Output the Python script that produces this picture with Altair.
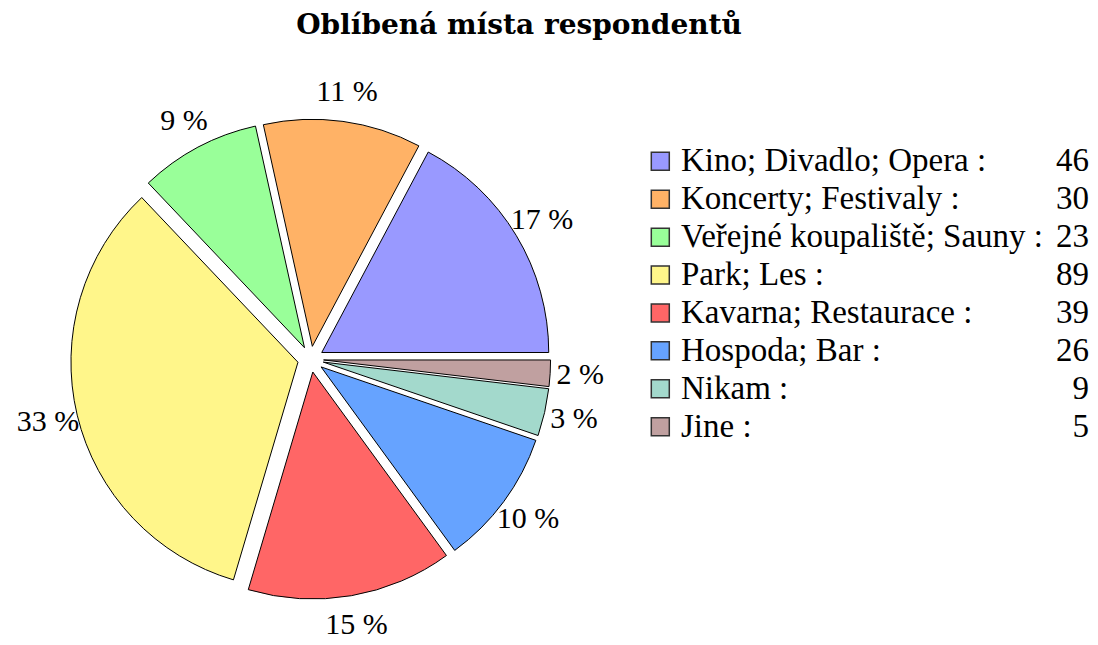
import math
import altair as alt
import pandas as pd

TITLE = "Oblíbená místa respondentů"
NAMES = ["Kino; Divadlo; Opera", "Koncerty; Festivaly", "Veřejné koupaliště; Sauny",
         "Park; Les", "Kavarna; Restaurace", "Hospoda; Bar", "Nikam", "Jine"]
VALUES = [46, 30, 23, 89, 39, 26, 9, 5]
COLORS = ["#9999FF", "#FFB266", "#99FF99", "#FFF68A", "#FF6666", "#66A3FF", "#A3D9CC", "#C0A0A0"]

TOTAL = sum(VALUES)
df = pd.DataFrame({"name": NAMES, "value": VALUES, "idx": list(range(len(NAMES)))})

# layout (pixels)
W, PAD_TOP = 1082, 52
H = 629 - PAD_TOP
CX, CY = 302.6, 299.2
R = 227
EXPLODE = 13 / R
LABEL_R = 270 / R
LEG_Y1, LEG_Y8 = 101.3, 366.7
SW_X, NAME_X, VAL_X = 652.3, 673, 1081

FONT = "Liberation Serif"
FS = 30
LEG_FS = 33

color = alt.Color("name:N", scale=alt.Scale(domain=NAMES, range=COLORS), legend=None)

base = alt.Chart(df).transform_window(
    cum="sum(value)", sort=[alt.SortField("idx", order="descending")]
).transform_calculate(
    start="datum.cum - datum.value",
    mid=f"PI / 2 + (datum.cum - datum.value / 2) / {TOTAL} * 2 * PI",
).transform_calculate(
    ox=f"{EXPLODE} * sin(datum.mid)",
    oy=f"{EXPLODE} * cos(datum.mid)",
    lx=f"{LABEL_R} * sin(datum.mid)",
    ly=f"{LABEL_R} * cos(datum.mid)",
    pct=f"round(datum.value / {TOTAL} * 100) + ' %'",
)

xs = alt.Scale(domain=[-1, 1], range=[CX - R, CX + R], nice=False, zero=False)
ys = alt.Scale(domain=[-1, 1], range=[CY + R, CY - R], nice=False, zero=False)

arcs = base.mark_arc(radius=R, stroke="black", strokeWidth=1).encode(
    x=alt.X("ox:Q", scale=xs, axis=None),
    y=alt.Y("oy:Q", scale=ys, axis=None),
    theta=alt.Theta("start:Q", scale=alt.Scale(domain=[0, TOTAL],
                                               range=[math.pi / 2, math.pi / 2 + 2 * math.pi],
                                               nice=False, zero=False)),
    theta2="cum:Q",
    color=color,
)

labels = base.mark_text(font=FONT, fontSize=FS, align="center", baseline="middle",
                        color="black").encode(
    x=alt.X("lx:Q", scale=xs, axis=None),
    y=alt.Y("ly:Q", scale=ys, axis=None),
    text="pct:N",
)

leg = alt.Chart(df).transform_calculate(label="datum.name + ' :'")
leg_y = alt.Y("name:N", sort=NAMES, axis=None,
              scale=alt.Scale(type="point", range=[LEG_Y1, LEG_Y8], padding=0))

swatches = leg.mark_square(size=18 * 18, stroke="#333333", strokeWidth=1.5, opacity=1).encode(
    x=alt.value(SW_X), y=leg_y, color=color)
names = leg.mark_text(font=FONT, fontSize=LEG_FS, align="left", baseline="middle", color="black").encode(
    x=alt.value(NAME_X), y=leg_y, text="label:N")
vals = leg.mark_text(font=FONT, fontSize=LEG_FS, align="right", baseline="middle", color="black").encode(
    x=alt.value(VAL_X), y=leg_y, text="value:Q")

chart = alt.layer(
    alt.layer(arcs, labels),
    alt.layer(swatches, names, vals),
).resolve_scale(x="independent", y="independent").properties(
    width=W, height=H,
    title=alt.TitleParams(TITLE, font="DejaVu Serif", fontSize=28, fontWeight="bold",
                          anchor="middle", frame="group", baseline="alphabetic",
                          offset=2, dx=-30, dy=4, color="black"),
    padding={"left": 0, "right": 0, "top": PAD_TOP, "bottom": 0},
    autosize=alt.AutoSizeParams(type="none"),
).configure_view(stroke=None)

chart.save("out.html", embed_options={"renderer": "svg", "actions": False})
